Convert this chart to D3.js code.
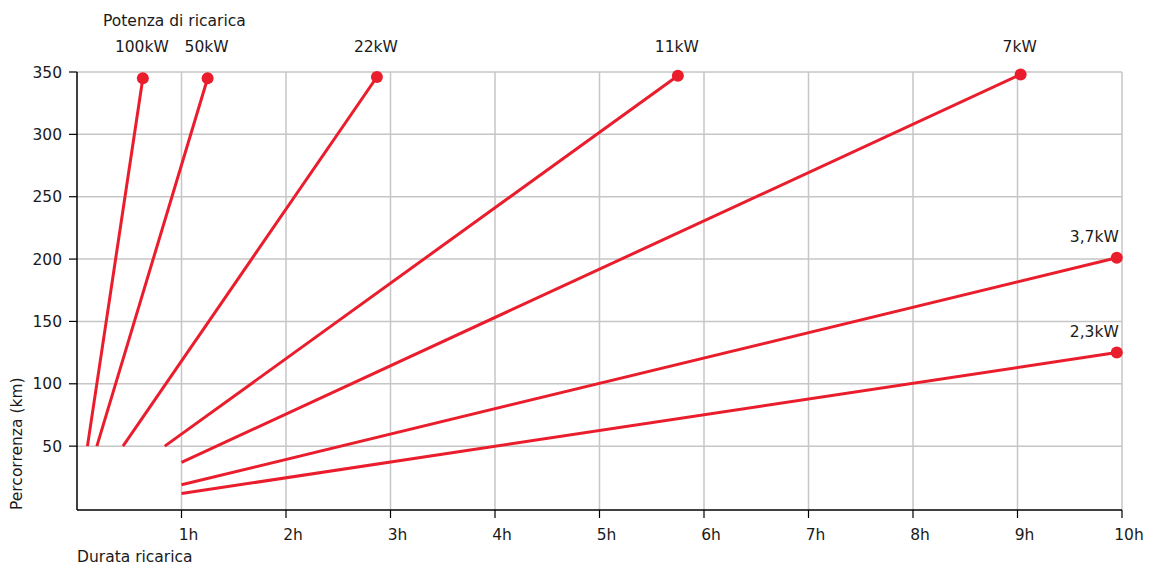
<!DOCTYPE html>
<html>
<head>
<meta charset="utf-8">
<script src="https://d3js.org/d3.v7.min.js"></script>
<style>
  body { margin: 0; background: #fff; }
  text { font-family: "DejaVu Sans", sans-serif; fill: #1a1a1a; }
</style>
</head>
<body>
<div id="chart"></div>
<script>
// Charging power labels
var powers = ["100kW", "50kW", "22kW", "11kW", "7kW", "3,7kW", "2,3kW"];
// start of each line: hours, km
var startHours = [0.1, 0.19, 0.44, 0.84, 1.0, 1.0, 1.0];
var startKm = [50, 50, 50, 50, 37, 19, 12];
// end of each line (dot): hours, km
var endHours = [0.63, 1.25, 2.87, 5.75, 9.03, 9.95, 9.95];
var endKm = [345, 345, 346, 347, 348, 201, 125];

var xTicks = [1, 2, 3, 4, 5, 6, 7, 8, 9, 10];
var yTicks = [50, 100, 150, 200, 250, 300, 350];

var width = 1149,
    height = 566;
var fs = "15.5px";

var svg = d3.select("#chart")
    .append("svg")
    .attr("width", width)
    .attr("height", height);

var x = d3.scaleLinear().domain([0, 10]).range([77, 1122]);
var y = d3.scaleLinear().domain([0, 350]).range([508.5, 72]);
var axisY = 510;

var red = "#ea1d2c",
    grid = "#c6c6c6";

// grid lines
svg.selectAll(".vgrid")
    .data(xTicks)
    .enter()
    .append("line")
    .attr("x1", d => x(d)).attr("x2", d => x(d))
    .attr("y1", y(350)).attr("y2", axisY)
    .attr("stroke", grid).attr("stroke-width", 1.5);

svg.selectAll(".hgrid")
    .data(yTicks)
    .enter()
    .append("line")
    .attr("x1", x(0)).attr("x2", x(10))
    .attr("y1", d => y(d)).attr("y2", d => y(d))
    .attr("stroke", grid).attr("stroke-width", 1.5);

// axes
svg.append("line")
    .attr("x1", x(0)).attr("x2", x(0))
    .attr("y1", y(350)).attr("y2", axisY)
    .attr("stroke", "#000").attr("stroke-width", 1.5);
svg.append("line")
    .attr("x1", x(0)).attr("x2", x(10))
    .attr("y1", axisY).attr("y2", axisY)
    .attr("stroke", "#000").attr("stroke-width", 1.5);

// x ticks
svg.selectAll(".xtick")
    .data(xTicks)
    .enter()
    .append("line")
    .attr("x1", d => x(d)).attr("x2", d => x(d))
    .attr("y1", axisY).attr("y2", axisY + 8)
    .attr("stroke", "#000").attr("stroke-width", 1.2);

svg.selectAll(".xlabel")
    .data(xTicks)
    .enter()
    .append("text")
    .text(d => d + "h")
    .attr("x", d => x(d) + 7)
    .attr("y", 540)
    .attr("font-size", fs)
    .attr("text-anchor", "middle");

// y ticks
svg.selectAll(".ytick")
    .data(yTicks)
    .enter()
    .append("line")
    .attr("x1", x(0) - 8).attr("x2", x(0))
    .attr("y1", d => y(d)).attr("y2", d => y(d))
    .attr("stroke", "#000").attr("stroke-width", 1.2);

svg.selectAll(".ylabel")
    .data(yTicks)
    .enter()
    .append("text")
    .text(d => d)
    .attr("x", 62)
    .attr("y", d => y(d) + 5.5)
    .attr("font-size", fs)
    .attr("text-anchor", "end");

// axis titles
svg.append("text")
    .text("Potenza di ricarica")
    .attr("x", 103).attr("y", 26)
    .attr("font-size", fs);

svg.append("text")
    .text("Durata ricarica")
    .attr("x", 77).attr("y", 562)
    .attr("font-size", fs);

svg.append("text")
    .text("Percorrenza (km)")
    .attr("transform", "translate(22,510) rotate(-90)")
    .attr("font-size", fs);

// series lines and end dots
svg.selectAll(".serie")
    .data(powers)
    .enter()
    .append("line")
    .attr("x1", (d, i) => x(startHours[i]))
    .attr("y1", (d, i) => y(startKm[i]))
    .attr("x2", (d, i) => x(endHours[i]))
    .attr("y2", (d, i) => y(endKm[i]))
    .attr("stroke", red)
    .attr("stroke-width", 3);

svg.selectAll(".dot")
    .data(powers)
    .enter()
    .append("circle")
    .attr("cx", (d, i) => x(endHours[i]))
    .attr("cy", (d, i) => y(endKm[i]))
    .attr("r", 6)
    .attr("fill", red);

// power labels: top ones above the plot, last two beside their dots
svg.selectAll(".plabel")
    .data(powers)
    .enter()
    .append("text")
    .text(d => d)
    .attr("x", (d, i) => i < 5 ? x(endHours[i]) - 1 : x(endHours[i]) + 2)
    .attr("y", (d, i) => i < 5 ? 52 : y(endKm[i]) - 16)
    .attr("font-size", fs)
    .attr("text-anchor", (d, i) => i < 5 ? "middle" : "end");
</script>
</body>
</html>
